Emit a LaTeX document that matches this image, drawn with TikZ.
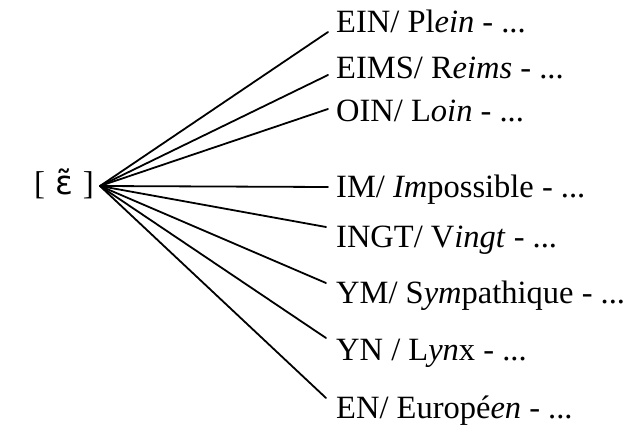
\documentclass[tikz,border=0pt]{standalone}
\usepackage{fontspec}
\setmainfont{Liberation Serif}
\newfontfamily\ipafont{DejaVu Sans}
\begin{document}
\begin{tikzpicture}[x=1pt,y=-1pt,
  lbl/.style={anchor=base west,inner sep=0pt,font=\fontsize{32.5}{38}\selectfont},
  conn/.style={line width=1.8pt,line cap=round}]
\useasboundingbox (0,0) rectangle (629,444);
\node[inner sep=0pt,font=\fontsize{33}{38}\selectfont] (sym) at (64,184) {[\hspace{0.3em}{\ipafont ɛ̃}\hspace{0.3em}]};
\coordinate (hub) at (100,186);
\node[lbl] (t1) at (336,33) {EIN/ Pl\textit{ein} - ...};
\node[lbl] (t2) at (336,78) {EIMS/ R\textit{eims} - ...};
\node[lbl] (t3) at (336,121) {OIN/ L\textit{oin} - ...};
\node[lbl] (t4) at (336,197) {IM/ \textit{Im}possible - ...};
\node[lbl] (t5) at (336,247) {INGT/ V\textit{ingt} - ...};
\node[lbl] (t6) at (336,303) {YM/ S\textit{ym}pathique - ...};
\node[lbl] (t7) at (336,360) {YN / L\textit{yn}x - ...};
\node[lbl] (t8) at (336,418) {EN/ Europé\textit{en} - ...};
\coordinate (e1) at (328,32);
\coordinate (e2) at (328,75);
\coordinate (e3) at (328,109);
\coordinate (e4) at (328,187);
\coordinate (e5) at (326,227);
\coordinate (e6) at (326,283);
\coordinate (e7) at (326,338);
\coordinate (e8) at (326,398);
\foreach \i in {1,...,8} \draw[conn] (hub) -- (e\i);
\end{tikzpicture}
\end{document}
